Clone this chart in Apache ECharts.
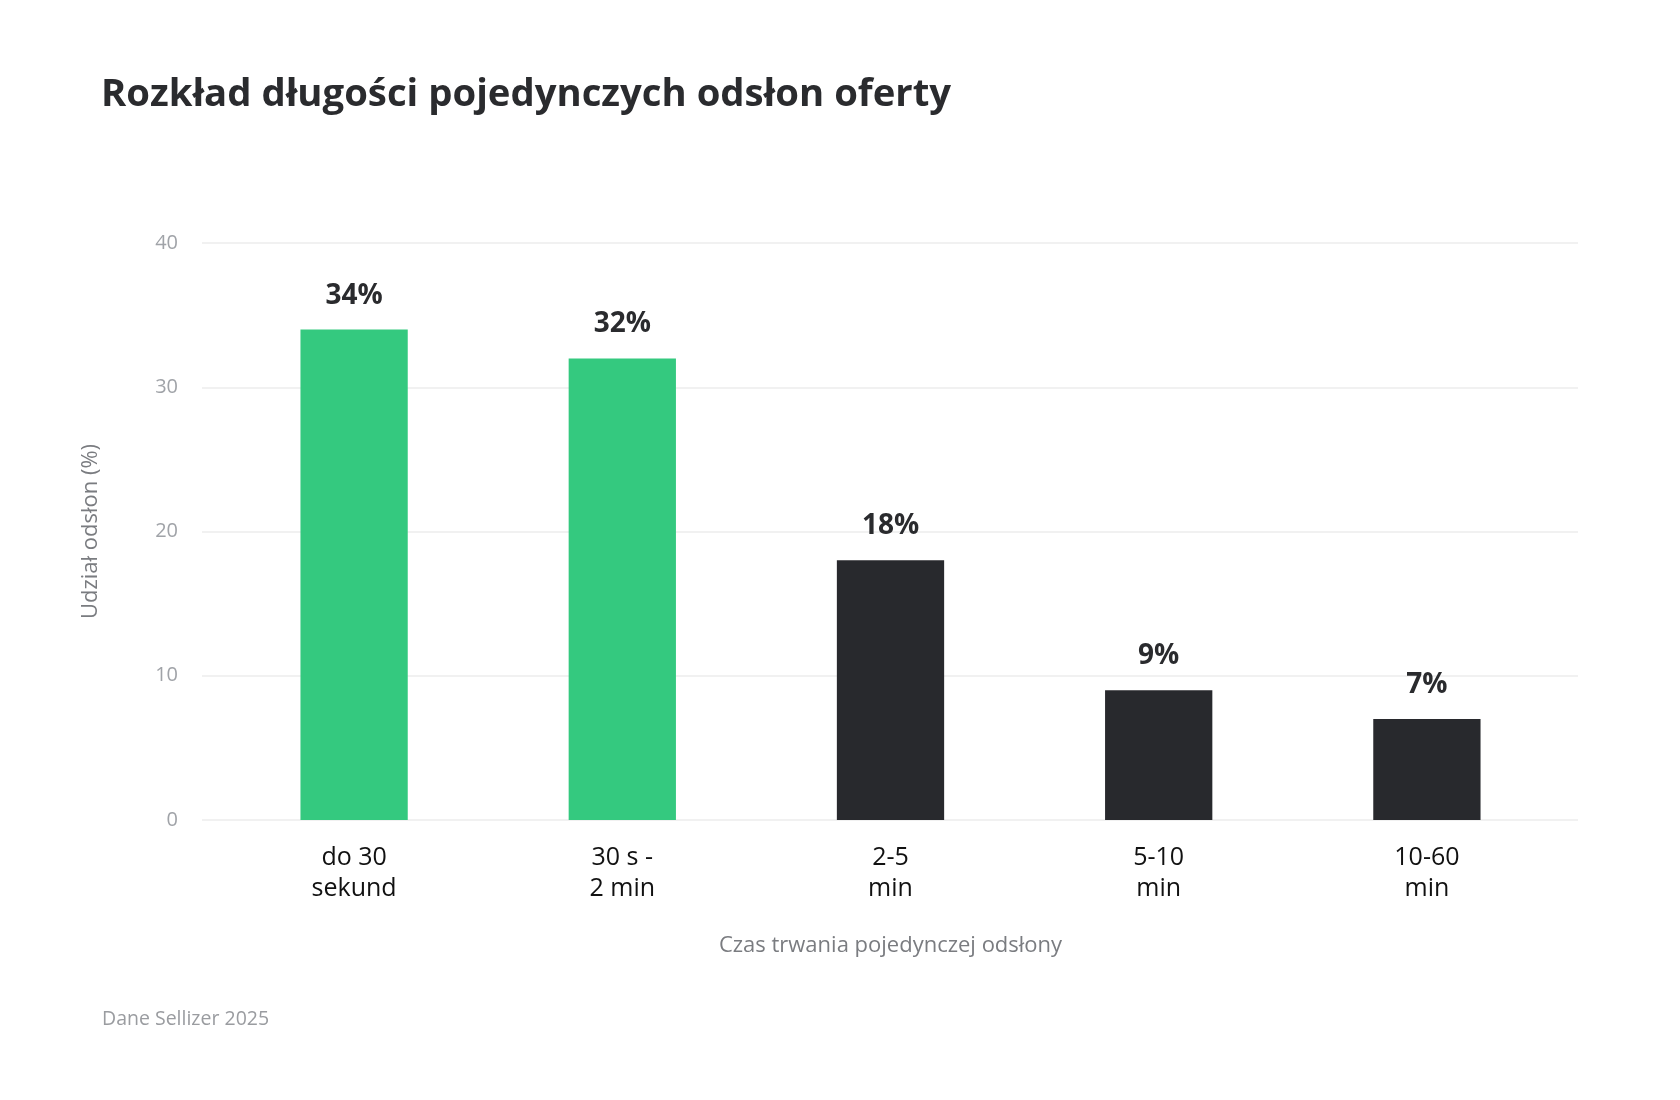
<!DOCTYPE html>
<html lang="pl">
<head>
    <meta charset="UTF-8">
    <title>Rozkład długości pojedynczych odsłon oferty</title>
    <script src="https://cdn.jsdelivr.net/npm/echarts@6/dist/echarts.min.js"></script>
    <style>
        html, body { margin: 0; padding: 0; background: #ffffff; }
        #main { width: 1680px; height: 1100px; }
    </style>
</head>
<body>
<div id="main"></div>
<script type="text/javascript">
    // dane
    var categories = ['do 30\nsekund', '30 s -\n2 min', '2-5\nmin', '5-10\nmin', '10-60\nmin'];
    var shares = [34, 32, 18, 9, 7];
    var highlighted = [true, true, false, false, false];
    var yTicks = [0, 10, 20, 30, 40];

    var GREEN = '#34c97f';
    var DARK = '#28292d';

    var chart = echarts.init(document.getElementById('main'));

    var barData = shares.map(function (v, i) {
        return { value: v, itemStyle: { color: highlighted[i] ? GREEN : DARK } };
    });

    // grid 0: linie siatki + oś Y, grid 1: słupki (węższy, jak w oryginale)
    var option = {
        backgroundColor: '#ffffff',
        animation: false,
        textStyle: { fontFamily: 'Open Sans' },
        title: [
            {
                text: 'Rozkład długości pojedynczych odsłon oferty',
                left: 96,
                top: 71,
                textStyle: { fontFamily: 'Open Sans', fontWeight: 'bold', fontSize: 38.3, color: '#2a2b2e' }
            },
            {
                text: 'Dane Sellizer 2025',
                left: 97,
                top: 1004,
                textStyle: { fontFamily: 'Open Sans', fontWeight: 'normal', fontSize: 19.5, color: '#9a9ca0' }
            }
        ],
        grid: [
            { left: 202, right: 102, top: 243, bottom: 280 },
            { left: 220, right: 119, top: 243, bottom: 280 }
        ],
        xAxis: [
            {
                type: 'category',
                gridIndex: 0,
                data: categories,
                show: false
            },
            {
                type: 'category',
                gridIndex: 1,
                data: categories,
                axisLine: { show: false },
                axisTick: { show: false },
                axisLabel: {
                    margin: 22,
                    fontSize: 25,
                    lineHeight: 31,
                    color: '#111111',
                    fontFamily: 'Open Sans'
                },
                name: 'Czas trwania pojedynczej odsłony',
                nameLocation: 'middle',
                nameGap: 115,
                nameTextStyle: { fontSize: 22, color: '#7a7c80', fontFamily: 'Open Sans' }
            }
        ],
        yAxis: [
            {
                type: 'value',
                gridIndex: 0,
                min: yTicks[0],
                max: yTicks[yTicks.length - 1],
                interval: 10,
                axisLine: { show: false },
                axisTick: { show: false },
                splitLine: { lineStyle: { color: '#ececec', width: 1.5 } },
                axisLabel: { margin: 24, fontSize: 20, color: '#a0a3a8', fontFamily: 'Open Sans' },
                name: 'Udział odsłon (%)',
                nameLocation: 'middle',
                nameGap: 100,
                nameRotate: 90,
                nameTextStyle: { fontSize: 22, color: '#7a7c80', fontFamily: 'Open Sans' }
            },
            {
                type: 'value',
                gridIndex: 1,
                min: yTicks[0],
                max: yTicks[yTicks.length - 1],
                interval: 10,
                show: false,
                splitLine: { show: false }
            }
        ],
        series: [
            {
                type: 'bar',
                xAxisIndex: 1,
                yAxisIndex: 1,
                data: barData,
                barWidth: '40%',
                label: {
                    show: true,
                    position: 'top',
                    distance: 20,
                    formatter: '{c}%',
                    fontFamily: 'Open Sans',
                    fontWeight: 'bold',
                    fontSize: 28,
                    color: '#2a2b2e'
                }
            }
        ]
    };

    chart.setOption(option);
</script>
</body>
</html>
